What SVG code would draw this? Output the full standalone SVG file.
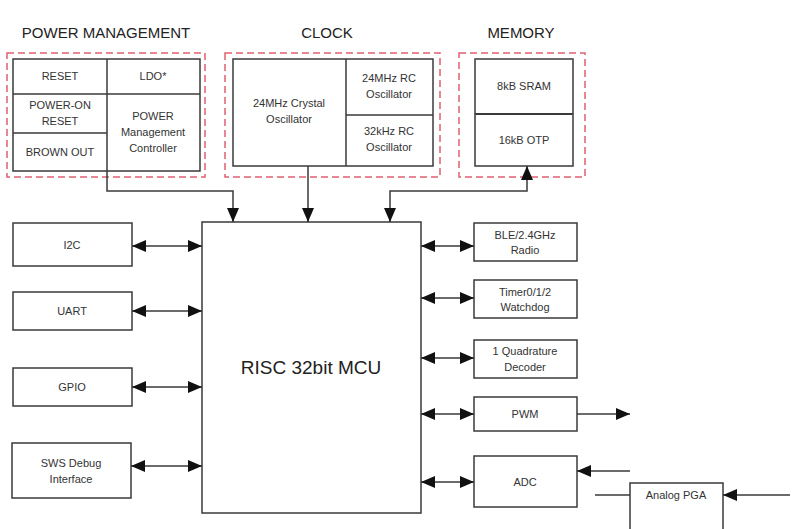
<svg xmlns="http://www.w3.org/2000/svg" width="803" height="529" viewBox="0 0 803 529">
<defs>
<style>
.box{fill:#fff;stroke:#3a3a3a;stroke-width:1.5}
.grp{fill:none;stroke:#e06070;stroke-width:1.5;stroke-dasharray:7,4}
.ln{fill:none;stroke:#3a3a3a;stroke-width:1.5}
.t{font-family:"Liberation Sans",Arial,sans-serif;font-size:11px;fill:#333;text-anchor:middle}
.h{font-family:"Liberation Sans",Arial,sans-serif;font-size:15px;fill:#222;text-anchor:middle}
.big{font-family:"Liberation Sans",Arial,sans-serif;font-size:19px;fill:#222;text-anchor:middle}
</style>
<marker id="ah" viewBox="0 0 14 12" refX="14" refY="6" markerWidth="14" markerHeight="12" markerUnits="userSpaceOnUse" orient="auto-start-reverse">
<path d="M0,0 L14,6 L0,12 Z" fill="#111"/>
</marker>
</defs>
<rect width="803" height="529" fill="#fff"/>

<g id="power-management">
<text class="h" x="106" y="38">POWER MANAGEMENT</text>
<rect class="grp" x="7" y="53" width="198" height="124"/>
<rect class="box" x="13" y="59" width="187" height="112"/>
<line class="ln" x1="107" y1="59" x2="107" y2="171"/>
<line class="ln" x1="13" y1="94" x2="200" y2="94"/>
<line class="ln" x1="13" y1="133" x2="107" y2="133"/>
<text class="t" x="60" y="80">RESET</text>
<text class="t" x="153" y="80">LDO*</text>
<text class="t" x="60" y="109">POWER-ON</text>
<text class="t" x="60" y="125">RESET</text>
<text class="t" x="60" y="156">BROWN OUT</text>
<text class="t" x="153" y="120">POWER</text>
<text class="t" x="153" y="136">Management</text>
<text class="t" x="153" y="152">Controller</text>
</g>

<g id="clock">
<text class="h" x="327" y="38">CLOCK</text>
<rect class="grp" x="225" y="53" width="215" height="124"/>
<rect class="box" x="233" y="59" width="200" height="107"/>
<line class="ln" x1="346" y1="59" x2="346" y2="166"/>
<line class="ln" x1="346" y1="115" x2="433" y2="115"/>
<text class="t" x="289" y="107">24MHz Crystal</text>
<text class="t" x="289" y="123">Oscillator</text>
<text class="t" x="389" y="82">24MHz RC</text>
<text class="t" x="389" y="98">Oscillator</text>
<text class="t" x="389" y="135">32kHz RC</text>
<text class="t" x="389" y="151">Oscillator</text>
</g>

<g id="memory">
<text class="h" x="521" y="38">MEMORY</text>
<rect class="grp" x="459" y="53" width="126" height="124"/>
<rect class="box" x="475" y="59" width="98" height="107"/>
<line class="ln" x1="475" y1="114" x2="573" y2="114" style="stroke-width:2"/>
<text class="t" x="524" y="90">8kB SRAM</text>
<text class="t" x="524" y="144">16kB OTP</text>
</g>

<g id="mcu">
<rect class="box" x="202" y="222" width="219" height="291"/>
<text class="big" x="311" y="374">RISC 32bit MCU</text>
</g>

<g id="i2c"><rect class="box" x="13" y="223" width="119" height="43"/><text class="t" x="72" y="249">I2C</text></g>
<g id="uart"><rect class="box" x="13" y="292" width="119" height="38"/><text class="t" x="72" y="315">UART</text></g>
<g id="gpio"><rect class="box" x="13" y="368" width="119" height="38"/><text class="t" x="72" y="391">GPIO</text></g>
<g id="sws"><rect class="box" x="12" y="443" width="119" height="55"/><text class="t" x="71" y="467">SWS Debug</text><text class="t" x="71" y="483">Interface</text></g>

<g id="ble"><rect class="box" x="474" y="223" width="103" height="38"/><text class="t" x="525" y="239">BLE/2.4GHz</text><text class="t" x="525" y="254">Radio</text></g>
<g id="timer"><rect class="box" x="474" y="280" width="103" height="38"/><text class="t" x="525" y="296">Timer0/1/2</text><text class="t" x="525" y="311">Watchdog</text></g>
<g id="quad"><rect class="box" x="474" y="340" width="103" height="38"/><text class="t" x="525" y="355">1 Quadrature</text><text class="t" x="525" y="371">Decoder</text></g>
<g id="pwm"><rect class="box" x="474" y="397" width="103" height="34"/><text class="t" x="525" y="418">PWM</text></g>
<g id="adc"><rect class="box" x="474" y="456" width="103" height="51"/><text class="t" x="525" y="486">ADC</text></g>
<g id="pga"><rect class="box" x="630" y="483" width="93" height="50"/><text class="t" x="676" y="499">Analog PGA</text></g>

<g id="connectors">
<path class="ln" d="M107,171 V191 H233 V222" marker-end="url(#ah)"/>
<path class="ln" d="M308,166 V222" marker-end="url(#ah)"/>
<path class="ln" d="M527,166 V191 H390 V222" marker-start="url(#ah)" marker-end="url(#ah)"/>
<path class="ln" d="M132,246 H202" marker-start="url(#ah)" marker-end="url(#ah)"/>
<path class="ln" d="M132,311 H202" marker-start="url(#ah)" marker-end="url(#ah)"/>
<path class="ln" d="M132,387 H202" marker-start="url(#ah)" marker-end="url(#ah)"/>
<path class="ln" d="M131,466 H202" marker-start="url(#ah)" marker-end="url(#ah)"/>
<path class="ln" d="M421,246 H474" marker-start="url(#ah)" marker-end="url(#ah)"/>
<path class="ln" d="M421,298 H474" marker-start="url(#ah)" marker-end="url(#ah)"/>
<path class="ln" d="M421,358 H474" marker-start="url(#ah)" marker-end="url(#ah)"/>
<path class="ln" d="M421,414 H474" marker-start="url(#ah)" marker-end="url(#ah)"/>
<path class="ln" d="M421,482 H474" marker-start="url(#ah)" marker-end="url(#ah)"/>
<path class="ln" d="M577,414 H630" marker-end="url(#ah)"/>
<path class="ln" d="M630,471 H577" marker-end="url(#ah)"/>
<path class="ln" d="M595,495 H630"/>
<path class="ln" d="M790,495 H723" marker-end="url(#ah)"/>
</g>
</svg>
